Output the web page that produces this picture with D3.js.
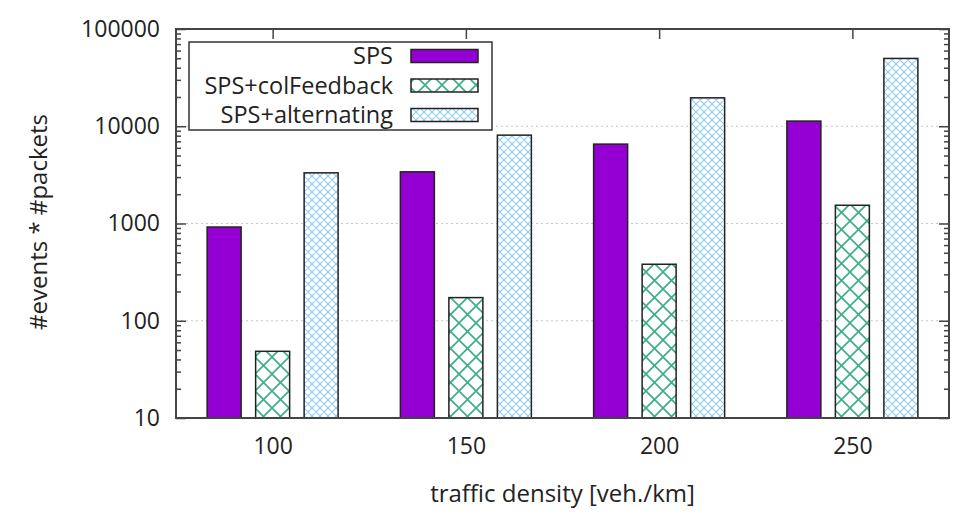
<!DOCTYPE html>
<html><head><meta charset="utf-8">
<script src="https://cdn.jsdelivr.net/npm/d3@7"></script>
<style>
html,body{margin:0;padding:0;background:#fff;}
text{font-family:"Open Sans","DejaVu Sans",sans-serif;fill:#222;}
</style></head>
<body>
<svg id="chart" width="969" height="524"></svg>
<script>
const categories = [100, 150, 200, 250];
const seriesNames = ["SPS", "SPS+colFeedback", "SPS+alternating"];
const spsValues = [920, 3400, 6550, 11300];
const colFeedbackValues = [48.5, 173, 381, 1540];
const alternatingValues = [3320, 8100, 19600, 49800];
const yTickValues = [10, 100, 1000, 10000, 100000];
const xLabel = "traffic density [veh./km]";
const yLabel = "#events * #packets";

const seriesValues = [spsValues, colFeedbackValues, alternatingValues];

const svg = d3.select("#chart");
const L = 176, R = 949, T = 29, B = 418;
const FONT = '"Open Sans","DejaVu Sans",sans-serif';

const x = d3.scaleLinear().domain([75, 275]).range([L, R]);
const y = d3.scaleLog().domain([10, 100000]).range([B, T]);
const offset = d3.scalePoint().domain(seriesNames).range([-48.5, 48.5]);
const barW = 34;

const defs = svg.append("defs");
function hatch(id, size, color, width) {
  const p = defs.append("pattern").attr("id", id).attr("patternUnits", "userSpaceOnUse")
    .attr("width", size).attr("height", size);
  p.append("rect").attr("width", size).attr("height", size).attr("fill", "#fff");
  p.append("path").attr("d", `M0,0L${size},${size}M0,${size}L${size},0M-1,1L1,-1M${size-1},${size+1}L${size+1},${size-1}`)
    .attr("stroke", color).attr("stroke-width", width).attr("fill", "none");
}
hatch("hatchGreen", 17, "#3aae88", 1.6);
hatch("hatchBlue", 8, "#8ccbee", 1.1);
const fills = ["#9400d3", "url(#hatchGreen)", "url(#hatchBlue)"];

// minor ticks
const minors = [];
for (let e = 1; e < 5; e++) for (let m = 2; m <= 9; m++) minors.push(m * Math.pow(10, e));

// grid
svg.append("g").selectAll("line").data(yTickValues.slice(1, -1)).join("line")
  .attr("x1", L).attr("x2", R).attr("y1", d => y(d)).attr("y2", d => y(d))
  .attr("stroke", "#c8c8c8").attr("stroke-width", 1).attr("stroke-dasharray", "2,3");

// axes
const fmt = d => String(d);
const gL = svg.append("g").attr("transform", `translate(${L},0)`)
  .call(d3.axisLeft(y).tickValues(yTickValues).tickFormat(fmt).tickSizeInner(-10).tickSizeOuter(0).tickPadding(16));
const gLm = svg.append("g").attr("transform", `translate(${L},0)`)
  .call(d3.axisLeft(y).tickValues(minors).tickFormat("").tickSizeInner(-5).tickSizeOuter(0));
const gR = svg.append("g").attr("transform", `translate(${R},0)`)
  .call(d3.axisRight(y).tickValues(yTickValues).tickFormat("").tickSizeInner(-10).tickSizeOuter(0));
const gRm = svg.append("g").attr("transform", `translate(${R},0)`)
  .call(d3.axisRight(y).tickValues(minors).tickFormat("").tickSizeInner(-5).tickSizeOuter(0));
const gB = svg.append("g").attr("transform", `translate(0,${B})`)
  .call(d3.axisBottom(x).tickValues(categories).tickFormat(fmt).tickSizeInner(-10).tickSizeOuter(0).tickPadding(20));
const gT = svg.append("g").attr("transform", `translate(0,${T})`)
  .call(d3.axisTop(x).tickValues(categories).tickFormat("").tickSizeInner(-10).tickSizeOuter(0));
[gL, gLm, gR, gRm, gB, gT].forEach(g => {
  g.select(".domain").remove();
  g.selectAll("line").attr("stroke", "#444").attr("stroke-width", 1.5);
  g.selectAll("text").attr("font-size", 23).attr("fill", "#222").attr("font-family", FONT);
});

// bars
seriesNames.forEach((name, si) => {
  svg.append("g").selectAll("rect").data(categories).join("rect")
    .attr("x", (c) => x(c) + offset(name) - barW / 2)
    .attr("width", barW)
    .attr("y", (c, i) => y(seriesValues[si][i]))
    .attr("height", (c, i) => B - y(seriesValues[si][i]))
    .attr("fill", fills[si])
    .attr("stroke", "#222").attr("stroke-width", 1.5);
});

// frame
svg.append("rect").attr("x", L).attr("y", T).attr("width", R - L).attr("height", B - T)
  .attr("fill", "none").attr("stroke", "#444").attr("stroke-width", 2);

// legend
const lg = svg.append("g");
lg.append("rect").attr("x", 189).attr("y", 42).attr("width", 303).attr("height", 88)
  .attr("fill", "#fff").attr("stroke", "#333").attr("stroke-width", 1.5);
seriesNames.forEach((name, i) => {
  const cy = 56 + i * 29.5;
  lg.append("text").attr("x", 393).attr("y", cy).attr("dy", "0.36em")
    .attr("text-anchor", "end").attr("font-size", 23.5).text(name);
  lg.append("rect").attr("x", 411).attr("y", cy - 6.5).attr("width", 67).attr("height", 13)
    .attr("fill", fills[i]).attr("stroke", "#222").attr("stroke-width", 1.5);
});

// axis titles
svg.append("text").attr("x", (L + R) / 2).attr("y", 493).attr("dy", "0.36em")
  .attr("text-anchor", "middle").attr("font-size", 24).text(xLabel);
svg.append("text").attr("transform", "translate(38,222) rotate(-90)").attr("dy", "0.36em")
  .attr("text-anchor", "middle").attr("font-size", 24).text(yLabel);
</script>
</body></html>
